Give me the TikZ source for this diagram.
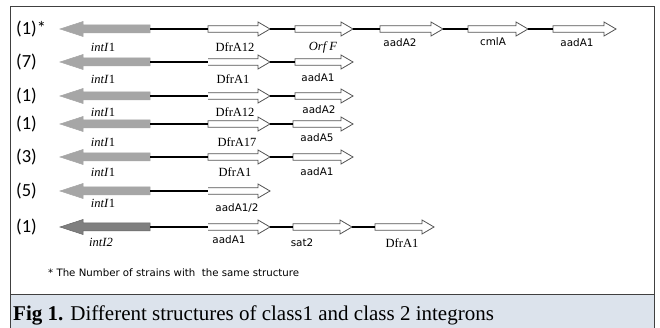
\documentclass[tikz,border=0pt]{standalone}
\usepackage{fontspec}
\setmainfont{Liberation Serif}
\newfontfamily\lblsans{DejaVu Sans}
\newfontfamily\rowfont{Carlito}
\definecolor{capbg}{HTML}{DCE3EC}
\definecolor{frame}{HTML}{404040}
\definecolor{intgray}{HTML}{A6A6A6}
\definecolor{intdark}{HTML}{7F7F7F}
\definecolor{genestroke}{HTML}{555555}
\tikzset{
  genebox/.style={draw=genestroke,fill=white,line width=0.8pt,line join=miter},
  intbox/.style={fill=intgray,draw=intgray,line width=0.5pt},
  intboxdark/.style={fill=intdark,draw=intdark!80!black,line width=0.5pt},
  link/.style={draw=black,line width=1.3pt},
  serlbl/.style={font=\fontsize{12.5}{14}\selectfont,inner sep=0pt},
  sanslbl/.style={font=\lblsans\fontsize{10.4}{12}\selectfont,inner sep=0pt},
  rowlbl/.style={font=\rowfont\fontsize{18.5}{20}\selectfont,inner sep=0pt,anchor=west},
}
% closed forward gene arrow: name, x1, x2, y
\newcommand{\gclosed}[4]{%
  \draw[genebox] (#2,#4-3.2) -- (#3-12,#4-3.2) -- (#3-12,#4-7) -- (#3,#4) -- (#3-12,#4+7) -- (#3-12,#4+3.2) -- (#2,#4+3.2) -- cycle;
  \coordinate (#1-s) at (#2,#4); \coordinate (#1-e) at (#3,#4);}
% open (no left edge) forward gene arrow
\newcommand{\gopen}[4]{%
  \fill[white] (#2,#4-3.2) -- (#3-12,#4-3.2) -- (#3-12,#4-7) -- (#3,#4) -- (#3-12,#4+7) -- (#3-12,#4+3.2) -- (#2,#4+3.2) -- cycle;
  \draw[genebox] (#2,#4-3.2) -- (#3-12,#4-3.2) -- (#3-12,#4-7) -- (#3,#4) -- (#3-12,#4+7) -- (#3-12,#4+3.2) -- (#2,#4+3.2);
  \coordinate (#1-s) at (#2,#4); \coordinate (#1-e) at (#3,#4);}
% integrase (leftward) arrow: name, y, style
\newcommand{\gint}[3]{%
  \draw[#3] (150,#2-4) -- (83,#2-4) -- (83,#2-7.5) -- (60,#2) -- (83,#2+7.5) -- (83,#2+4) -- (150,#2+4) -- cycle;
  \coordinate (#1-s) at (60,#2); \coordinate (#1-e) at (150,#2);}
\begin{document}
\begin{tikzpicture}[x=1pt,y=-1pt]
\useasboundingbox (0,0) rectangle (660,328);
% frame and caption
\draw[frame,line width=1pt,fill=white] (10,7) rectangle (654,294);
\draw[frame,line width=1pt,fill=capbg] (10,294) rectangle (654,332);
\node[anchor=base west,inner sep=0pt,font=\fontsize{21}{24}\selectfont] (cap) at (13,320) {\textbf{Fig 1.} Different structures of class1 and class 2 integrons};

% ---- Row 1 ----
\node[rowlbl] (r1) at (16,29) {(1)*};
\gint{i1}{29}{intbox}
\gclosed{a1}{208}{270}{29}
\gclosed{b1}{295}{353}{29}
\gclosed{c1}{380}{443}{29}
\gclosed{d1}{468}{528}{29}
\gclosed{e1}{553}{616}{29}
\draw[link] (i1-e) -- (a1-s);
\draw[link] (a1-e) -- (b1-s);
\draw[link] (b1-e) -- (c1-s);
\draw[link] (c1-e) -- (d1-s);
\draw[link] (d1-e) -- (e1-s);
\node[serlbl] (l1i) at (103,47) {\textit{intI}1};
\node[serlbl] (l1a) at (235,47) {DfrA12};
\node[serlbl] (l1b) at (323,47) {\textit{Orf F}};
\node[sanslbl] (l1c) at (400,43) {aadA2};
\node[sanslbl] (l1d) at (493,42) {cmlA};
\node[sanslbl] (l1e) at (577,43) {aadA1};

% ---- Row 2 ----
\node[rowlbl] (r2) at (16,62) {(7)};
\gint{i2}{62}{intbox}
\gopen{a2}{208}{270}{62}
\gclosed{b2}{295}{353}{62}
\draw[link] (i2-e) -- (a2-s);
\draw[link] (a2-e) -- (b2-s);
\node[serlbl] (l2i) at (103,79) {\textit{intI}1};
\node[serlbl] (l2a) at (233,79) {DfrA1};
\node[sanslbl] (l2b) at (318,78) {aadA1};

% ---- Row 3 ----
\node[rowlbl] (r3) at (16,96) {(1)};
\gint{i3}{96}{intbox}
\gopen{a3}{208}{270}{96}
\gclosed{b3}{295}{353}{96}
\draw[link] (i3-e) -- (a3-s);
\draw[link] (a3-e) -- (b3-s);
\node[serlbl] (l3i) at (103,112) {\textit{intI}1};
\node[serlbl] (l3a) at (235,112) {DfrA12};
\node[sanslbl] (l3b) at (319,110) {aadA2};

% ---- Row 4 ----
\node[rowlbl] (r4) at (16,124) {(1)};
\gint{i4}{124}{intbox}
\gclosed{a4}{208}{270}{124}
\gclosed{b4}{293}{353}{124}
\draw[link] (i4-e) -- (a4-s);
\draw[link] (a4-e) -- (b4-s);
\node[serlbl] (l4i) at (103,142) {\textit{intI}1};
\node[serlbl] (l4a) at (237,142) {DfrA17};
\node[sanslbl] (l4b) at (317,138) {aadA5};

% ---- Row 5 ----
\node[rowlbl] (r5) at (16,157) {(3)};
\gint{i5}{157}{intbox}
\gclosed{a5}{208}{270}{157}
\gclosed{b5}{293}{353}{157}
\draw[link] (i5-e) -- (a5-s);
\draw[link] (a5-e) -- (b5-s);
\node[serlbl] (l5i) at (103,172) {\textit{intI}1};
\node[serlbl] (l5a) at (235,172) {DfrA1};
\node[sanslbl] (l5b) at (317,172) {aadA1};

% ---- Row 6 ----
\node[rowlbl] (r6) at (16,191) {(5)};
\gint{i6}{191}{intbox}
\gopen{a6}{208}{270}{191}
\draw[link] (i6-e) -- (a6-s);
\node[serlbl] (l6i) at (103,203) {\textit{intI}1};
\node[sanslbl] (l6a) at (237,208) {aadA1/2};

% ---- Row 7 ----
\node[rowlbl] (r7) at (16,227) {(1)};
\gint{i7}{227}{intboxdark}
\gopen{a7}{208}{270}{227}
\gclosed{b7}{293}{352}{227}
\gclosed{c7}{375}{434}{227}
\draw[link] (i7-e) -- (a7-s);
\draw[link] (a7-e) -- (b7-s);
\draw[link] (b7-e) -- (c7-s);
\node[serlbl] (l7i) at (101,242) {\textit{intI2}};
\node[sanslbl] (l7a) at (229,240) {aadA1};
\node[sanslbl] (l7b) at (302,243) {sat2};
\node[serlbl] (l7c) at (402,243) {DfrA1};

% footnote
\node[anchor=west,inner sep=0pt,font=\lblsans\fontsize{10.2}{12}\selectfont] (fn) at (48,273) {*\ The Number of strains with\ \ the same structure};
\end{tikzpicture}
\end{document}
